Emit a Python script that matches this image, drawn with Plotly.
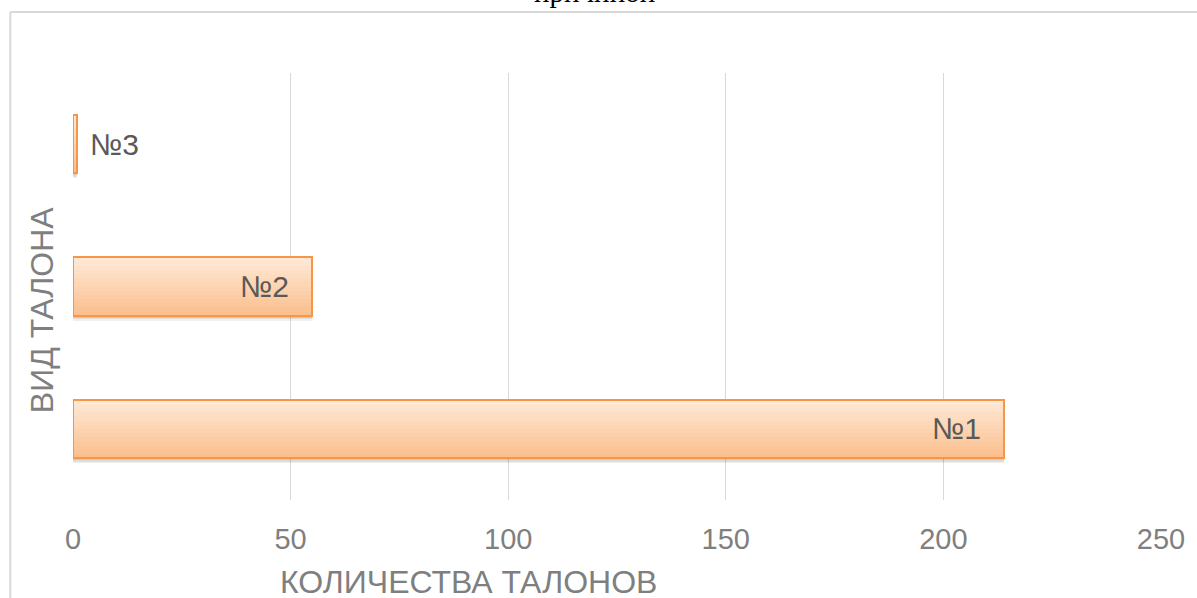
import plotly.graph_objects as go

categories = ["№1", "№2", "№3"]
values = [214, 55, 1]
x_ticks = [0, 50, 100, 150, 200, 250]
title_text = "причиной"
x_title = "КОЛИЧЕСТВА ТАЛОНОВ"
y_title = "ВИД ТАЛОНА"

W, H = 1197, 598
ML, MR, MT, MB = 73, 30, 73, 98
PW, PH = W - ML - MR, H - MT - MB


def px_x(px):
    return (px - ML) / PW


def px_y(py):
    return (H - MB - py) / PH


fig = go.Figure()

bar_w = 0.41
unit_px = PH / 3.0
top = bar_w / 2

# soft shadow
for s, a in [(5, 0.06), (3.5, 0.08), (2, 0.08)]:
    d = s / unit_px
    fig.add_trace(go.Bar(
        x=values, y=categories, orientation="h",
        width=bar_w, offset=-bar_w / 2 - d,
        marker=dict(color="rgba(0,0,0,%.2f)" % a, line=dict(width=0)),
        hoverinfo="skip", showlegend=False,
    ))

N = 14
dark = (251, 192, 142)
light = (254, 232, 214)
for k in range(N):
    t = k / (N - 1)
    c = tuple(round(dark[i] + (light[i] - dark[i]) * t) for i in range(3))
    h = bar_w * (N - k) / N
    fig.add_trace(go.Bar(
        x=values, y=categories, orientation="h",
        width=h, offset=top - h,
        marker=dict(color="rgb(%d,%d,%d)" % c, line=dict(width=0)),
        hoverinfo="skip", showlegend=False,
    ))

# border
fig.add_trace(go.Bar(
    x=values, y=categories, orientation="h",
    width=bar_w, offset=-bar_w / 2,
    marker=dict(color="rgba(0,0,0,0)", line=dict(color="#f79646", width=2)),
    showlegend=False,
))

# labels
for c, v in zip(categories, values):
    inside = v > 10
    fig.add_annotation(
        x=v, y=c, xref="x", yref="y", text=c, showarrow=False,
        xanchor="right" if inside else "left",
        xshift=-21 if inside else 11,
        font=dict(family="Liberation Sans, Arial", size=30, color="#595959"),
    )

fig.update_layout(
    width=W, height=H,
    margin=dict(l=ML, r=MR, t=MT, b=MB),
    paper_bgcolor="white", plot_bgcolor="white",
    barmode="overlay",
    bargap=0,
    font=dict(family="Liberation Sans, Arial", color="#7f7f7f"),
)
fig.update_xaxes(
    range=[0, 250], tickvals=x_ticks, showgrid=True, gridcolor="#d9d9d9",
    gridwidth=1, zeroline=False, showline=False,
    ticks="", ticklabelstandoff=19,
    tickfont=dict(size=29, color="#7f7f7f"),
    fixedrange=True,
)
fig.update_yaxes(
    categoryorder="array", categoryarray=categories,
    range=[-0.5, 2.5], showticklabels=False, showgrid=False,
    zeroline=False, showline=False, fixedrange=True,
)

# axis titles
fig.add_annotation(
    xref="paper", yref="paper", x=px_x(471), y=px_y(582),
    text=x_title, showarrow=False, xanchor="center", yanchor="middle",
    font=dict(family="Liberation Sans, Arial", size=32, color="#7f7f7f"),
)
fig.add_annotation(
    xref="paper", yref="paper", x=px_x(42), y=px_y(310),
    text=y_title, showarrow=False, textangle=-90, xanchor="center", yanchor="middle",
    font=dict(family="Liberation Sans, Arial", size=32, color="#7f7f7f"),
)
# cut-off title
fig.add_annotation(
    xref="paper", yref="paper", x=px_x(597), y=px_y(-8),
    text=title_text, showarrow=False, xanchor="center", yanchor="middle",
    font=dict(family="Liberation Serif, serif", size=29, color="#000000"),
)

# chart-area border
fig.add_shape(type="line", xref="paper", yref="paper",
              x0=px_x(10), x1=px_x(10), y0=px_y(12), y1=px_y(620),
              line=dict(color="#d9d9d9", width=2))
fig.add_shape(type="line", xref="paper", yref="paper",
              x0=px_x(10), x1=px_x(1220), y0=px_y(12), y1=px_y(12),
              line=dict(color="#d9d9d9", width=2))

fig.write_html(
    "out.html",
    config={"displayModeBar": False},
    post_script="document.body.style.margin='0';document.body.style.overflow='hidden';",
)
